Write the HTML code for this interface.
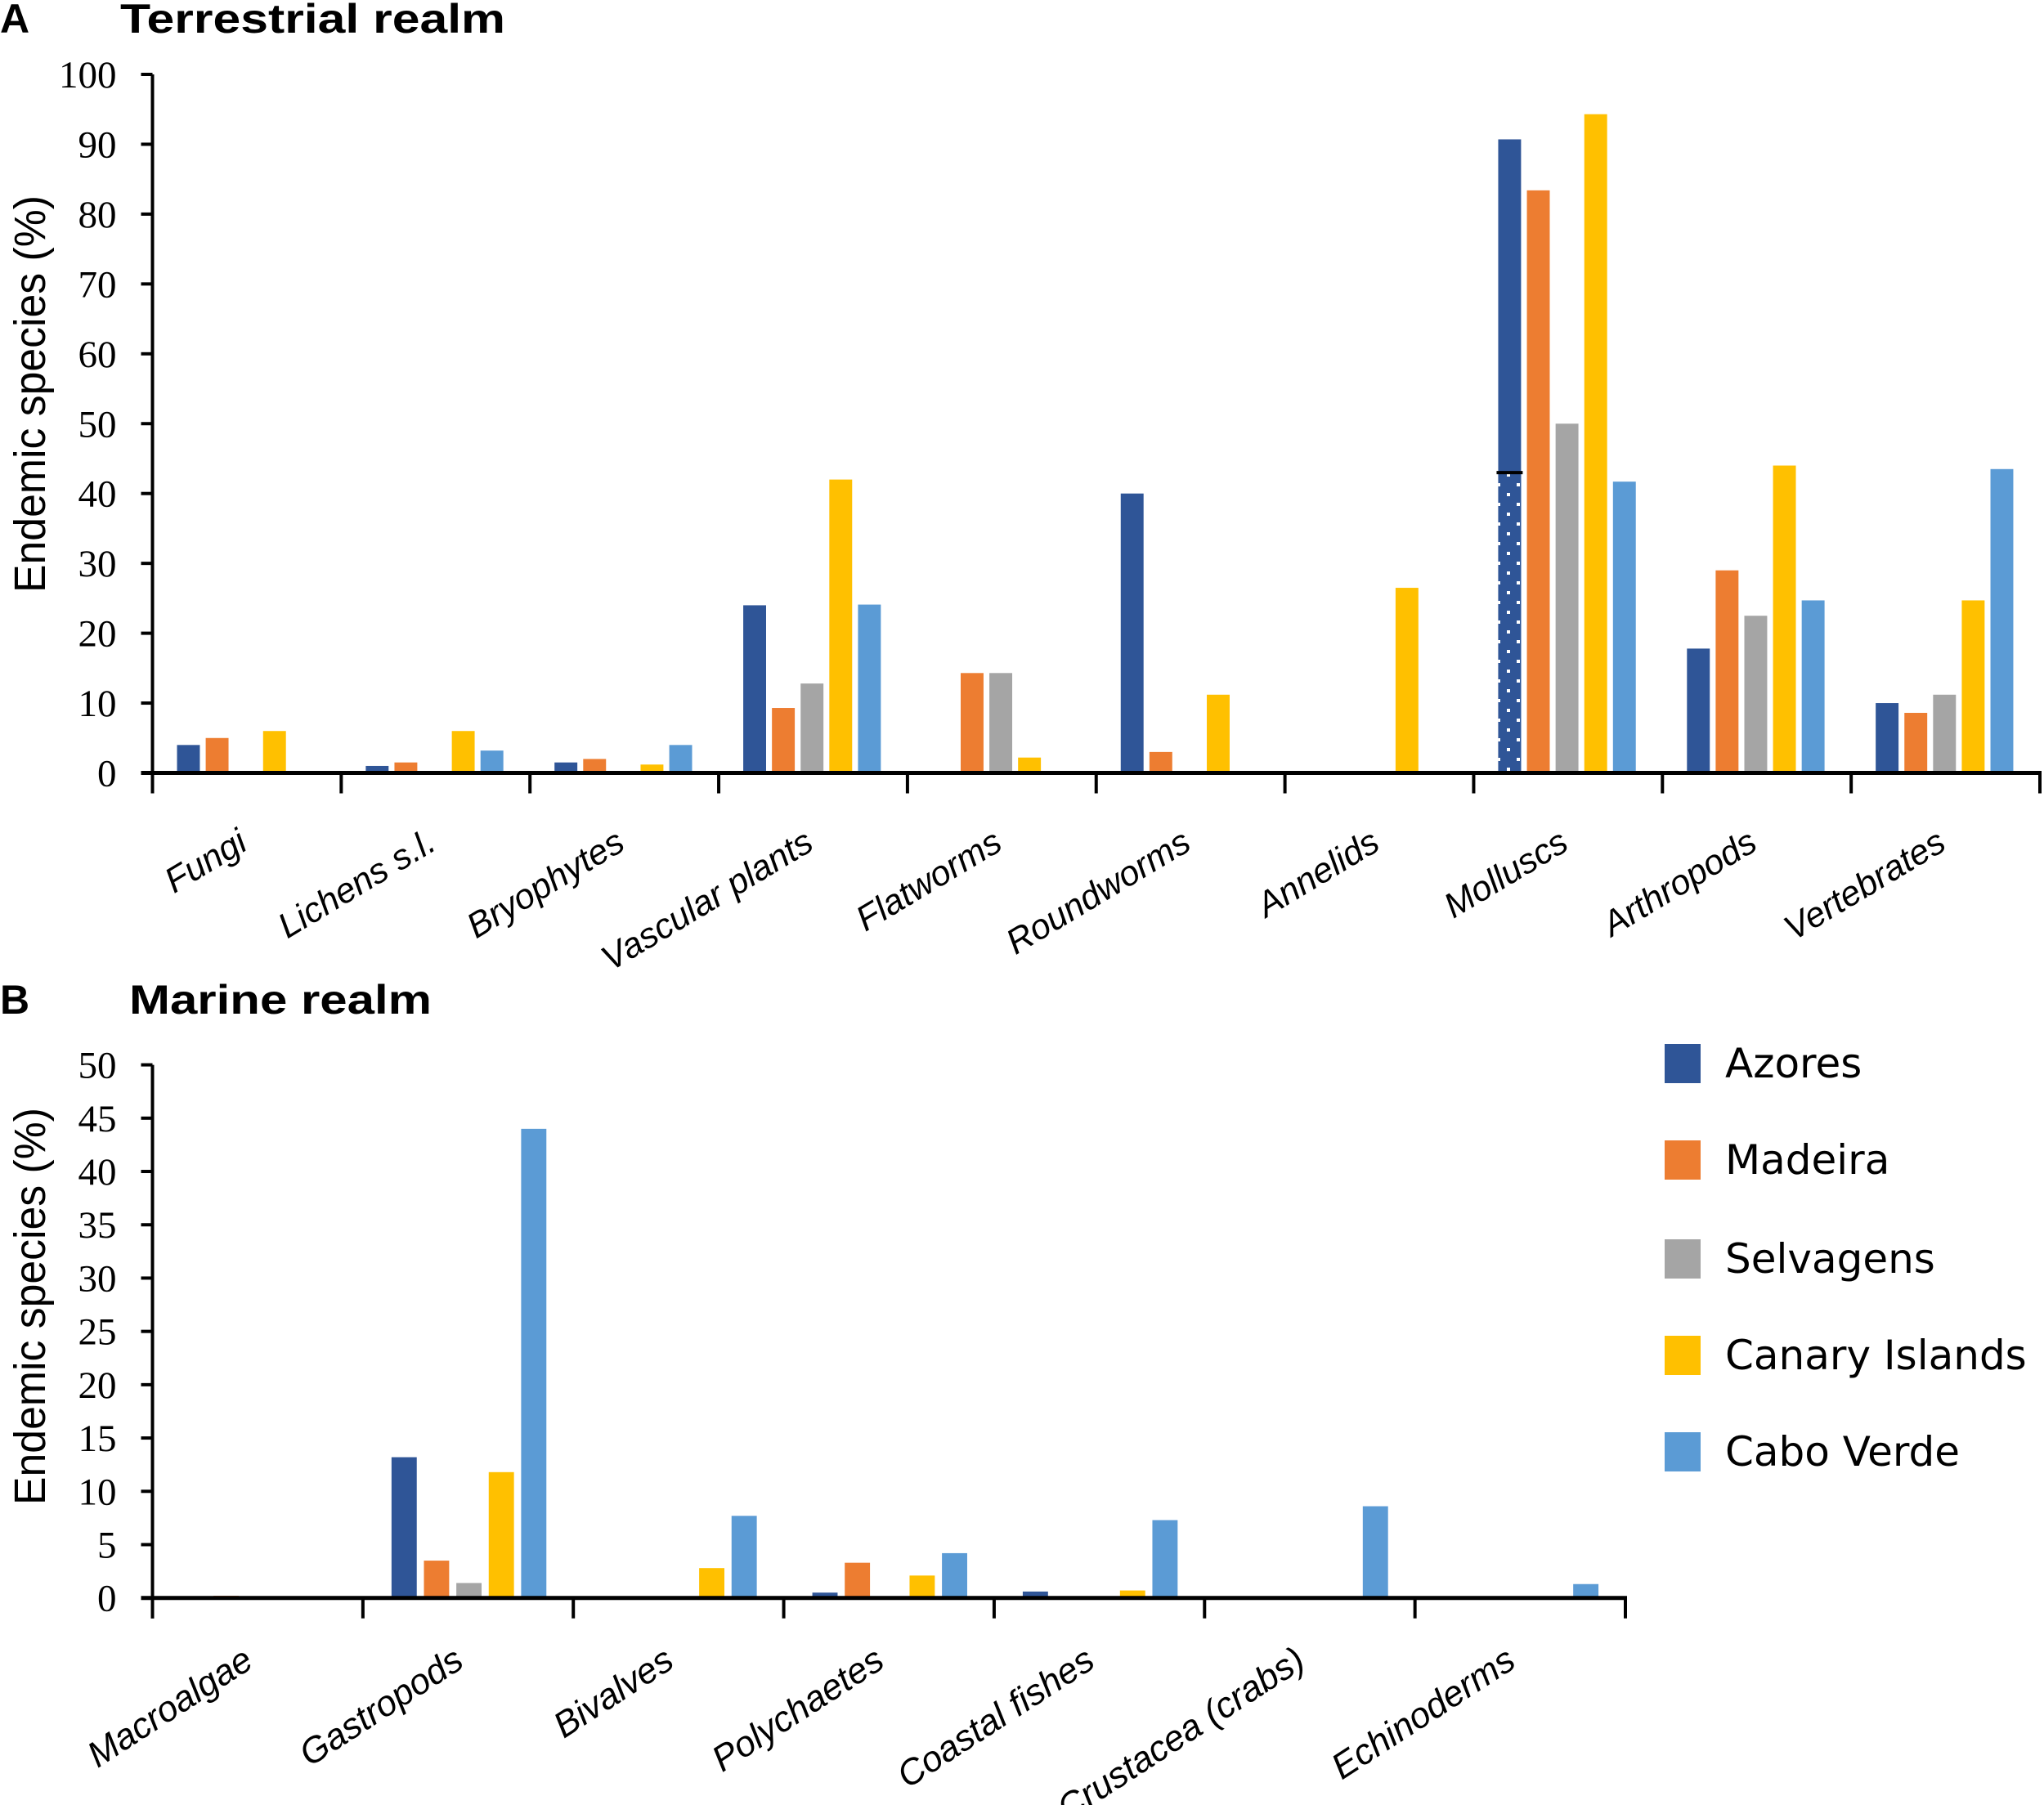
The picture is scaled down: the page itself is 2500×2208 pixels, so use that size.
<!DOCTYPE html>
<html><head><meta charset="utf-8"><style>
html,body{margin:0;padding:0;background:#fff;}
svg{display:block;}
</style></head><body>
<svg id="chart" width="2500" height="2208" viewBox="0 0 2500 2208" xmlns="http://www.w3.org/2000/svg">
<defs>
<pattern id="dots" patternUnits="userSpaceOnUse" width="24" height="24" x="1833" y="0">
<rect width="24" height="24" fill="#2F5597"/>
<rect x="10" y="3" width="4" height="4" fill="#fff"/>
<rect x="22" y="15" width="4" height="4" fill="#fff"/>
<rect x="-2" y="15" width="4" height="4" fill="#fff"/>
</pattern>
</defs>
<g id="root"></g>
</svg>
<script>
const seriesNames = ["Azores","Madeira","Selvagens","Canary Islands","Cabo Verde"];
const colors = ["#2F5597","#ED7D31","#A5A5A5","#FFC000","#5B9BD5"];

const catsA = ["Fungi","Lichens s.l.","Bryophytes","Vascular plants","Flatworms","Roundworms","Annelids","Molluscs","Arthropods","Vertebrates"];
const azoresA = [4,1,1.5,24,0,40,0,90.7,17.8,10];
const madeiraA = [5,1.5,2,9.3,14.3,3,0,83.4,29,8.6];
const selvagensA = [0,0,0,12.8,14.3,0,0,50,22.5,11.2];
const canaryA = [6,6,1.2,42,2.2,11.2,26.5,94.3,44,24.7];
const caboA = [0,3.2,4,24.1,0,0,0,41.7,24.7,43.5];
const ticksA = [0,10,20,30,40,50,60,70,80,90,100];
const molluscSplit = 43;

const catsB = ["Macroalgae","Gastropods","Bivalves","Polychaetes","Coastal fishes","Crustacea (crabs)","Echinoderms"];
const azoresB = [0,13.2,0,0.5,0.6,0,0];
const madeiraB = [0.2,3.5,0,3.3,0,0,0];
const selvagensB = [0,1.4,0,0,0,0,0];
const canaryB = [0,11.8,2.8,2.1,0.7,0,0];
const caboB = [0,44,7.7,4.2,7.3,8.6,1.3];
const ticksB = [0,5,10,15,20,25,30,35,40,45,50];

const SERIF = "font-family:'Liberation Serif','Times New Roman','DejaVu Serif',serif";
const SANS = "font-family:'Liberation Sans',Arial,sans-serif";
const DV = "font-family:'DejaVu Sans',Verdana,sans-serif";

const NS = "http://www.w3.org/2000/svg";
const root = document.getElementById('root');
function mk(tag, attrs, parent){
  const e = document.createElementNS(NS, tag);
  for (const k in attrs) e.setAttribute(k, attrs[k]);
  (parent||root).appendChild(e);
  return e;
}

function panel(cfg){
  const g = mk('g', {});
  
  
  const y = v => cfg.y0 - v / cfg.ymax * (cfg.y0 - cfg.ytop);
  const cw = (cfg.x1 - cfg.x0) / cfg.cats.length;
  const pitch = cw * cfg.pitchF, bw = cw * cfg.bwF, off = cw * cfg.offF;
  const data = cfg.series;
  cfg.cats.forEach((c, i) => {
    data.forEach((arr, s) => {
      const v = arr[i];
      if (v <= 0) return;
      const bx = cfg.x0 + i*cw + off + s*pitch;
      const r = mk('rect', {x: bx, y: y(v), width: bw, height: y(0)-y(v), fill: colors[s]}, g);
      
      
      if (cfg.split && c === cfg.split.cat && s === 0) {
        const h = mk('rect', {x: bx, y: y(cfg.split.v), width: bw, height: y(0)-y(cfg.split.v), fill: 'url(#dots)'}, g);
        
        
        const l = mk('line', {x1: bx-2, x2: bx+bw+2, y1: y(cfg.split.v), y2: y(cfg.split.v), stroke: '#000', 'stroke-width': 4}, g);
        
        
      }
    });
  });
  const ya = mk('line', {x1: cfg.x0, x2: cfg.x0, y1: cfg.ytop, y2: y(0)+25, stroke: '#000', 'stroke-width': 4}, g);
  
  
  const xa = mk('line', {x1: cfg.x0-14, x2: cfg.x1+2, y1: y(0), y2: y(0), stroke: '#000', 'stroke-width': 5}, g);
  
  
  cfg.ticks.forEach(t => {
    const tl = mk('line', {x1: cfg.x0-14, x2: cfg.x0, y1: y(t), y2: y(t), stroke: '#000', 'stroke-width': 4}, g);
    
    
    const tx = mk('text', {x: cfg.x0-44, y: y(t)+16, 'text-anchor': 'end', style: SERIF + ';font-size:47px', fill: '#000'}, g);
    tx.textContent = t;
    
    
  });
  for (let i = 0; i <= cfg.cats.length; i++) {
    const xt = cfg.x0 + i*cw;
    const tl = mk('line', {x1: xt, x2: xt, y1: y(0), y2: y(0)+25, stroke: '#000', 'stroke-width': 4}, g);
    
    
  }
  cfg.cats.forEach((c, i) => {
    const cx = cfg.x0 + i*cw + cw/2 + cfg.labDx;
    const t = mk('text', {x: cx, y: cfg.labY, 'text-anchor': 'end', transform: `rotate(${cfg.rot} ${cx} ${cfg.labY})`, style: SANS + ';font-style:italic;font-size:' + cfg.labFs + 'px', fill: '#000'}, g);
    t.textContent = c;
    
    
  });
  const yt = mk('text', {x: 0, y: 0, 'text-anchor': 'middle', transform: `translate(55 ${cfg.ytitleY}) rotate(-90)`, style: SANS + ';font-size:54px', textLength: 486, lengthAdjust: 'spacingAndGlyphs', fill: '#000'}, g);
  yt.textContent = 'Endemic species (%)';
  
  
}

panel({name: 'terrestrial-panel', cats: catsA, series: [azoresA, madeiraA, selvagensA, canaryA, caboA], ticks: ticksA, ymax: 100,
  x0: 186.5, x1: 2495, y0: 945.5, ytop: 91, pitchF: 0.152, bwF: 0.121, offF: 0.13, labDx: 3, labY: 1038, rot: -31, labFs: 43,
  ytitleY: 482, split: {cat: 'Molluscs', v: molluscSplit}});
panel({name: 'marine-panel', cats: catsB, series: [azoresB, madeiraB, selvagensB, canaryB, caboB], ticks: ticksB, ymax: 50,
  x0: 186.5, x1: 1988, y0: 1954.7, ytop: 1302.6, pitchF: 0.154, bwF: 0.12, offF: 0.136, labDx: -3, labY: 2038, rot: -33, labFs: 44,
  ytitleY: 1598});

[["A", 0, 40, "panel-a-letter", 0], ["Terrestrial realm", 147, 40, "panel-a-title", 471], ["B", 0, 1240, "panel-b-letter", 0], ["Marine realm", 158, 1240, "panel-b-title", 370]].forEach(d => {
  const t = mk('text', {x: d[1], y: d[2], style: SANS + ';font-weight:bold;font-size:50px', fill: '#000'});
  if (d[4]) { t.setAttribute('textLength', d[4]); t.setAttribute('lengthAdjust', 'spacingAndGlyphs'); }
  t.textContent = d[0];
  
  
});

const legY = [1301, 1419, 1540, 1658, 1776];
seriesNames.forEach((n, s) => {
  const r = mk('rect', {x: 2036, y: legY[s]-24, width: 44, height: 48, fill: colors[s]});
  
  
  const t = mk('text', {x: 2110, y: legY[s]+17, style: DV + ';font-size:50px', fill: '#000'});
  t.textContent = n;
  
  
});
</script>
</body></html>
